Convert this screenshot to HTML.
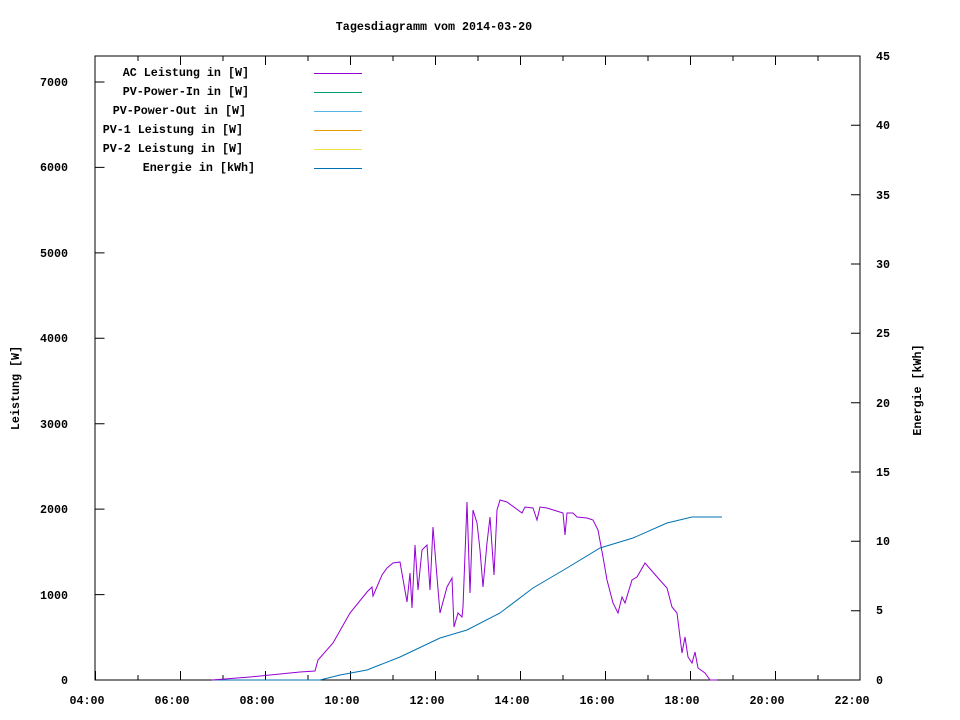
<!DOCTYPE html><html><head><style>body{margin:0;background:#fff}svg{display:block}text{font-family:"Liberation Mono",monospace;font-size:11.7px;font-weight:bold;fill:#000}</style></head><body>
<svg width="960" height="720" xmlns="http://www.w3.org/2000/svg">
<rect x="95" y="56" width="765" height="624" fill="none" stroke="#000" stroke-width="1"/>
<g stroke="#000" stroke-width="1">
<path d="M95.5 680h9M95.5 594.6h9M95.5 509.1h9M95.5 423.7h9M95.5 338.3h9M95.5 252.9h9M95.5 167.4h9M95.5 82h9"/>
<path d="M860 680h-9M860 610.7h-9M860 541.3h-9M860 472h-9M860 402.7h-9M860 333.3h-9M860 264h-9M860 194.7h-9M860 125.3h-9M860 56h-9"/>
<path d="M95.5 680v-9M138 680v-5M180.5 680v-9M223 680v-5M265.5 680v-9M308 680v-5M350.5 680v-9M393 680v-5M435.5 680v-9M478 680v-5M520.5 680v-9M563 680v-5M605.5 680v-9M648 680v-5M690.5 680v-9M733 680v-5M775.5 680v-9M818 680v-5M860 680v-9"/>
<path d="M138 56v5M180.5 56v9M223 56v5M265.5 56v9M308 56v5M350.5 56v9M393 56v5M435.5 56v9M478 56v5M520.5 56v9M563 56v5M605.5 56v9M648 56v5M690.5 56v9M733 56v5M775.5 56v9M818 56v5"/>
</g>
<g text-anchor="end">
<text x="68" y="684">0</text><text x="68" y="599">1000</text><text x="68" y="513">2000</text><text x="68" y="428">3000</text><text x="68" y="342">4000</text><text x="68" y="257">5000</text><text x="68" y="171">6000</text><text x="68" y="86">7000</text>
</g>
<g text-anchor="start">
<text x="876" y="684">0</text><text x="876" y="614">5</text><text x="876" y="545">10</text><text x="876" y="476">15</text><text x="876" y="407">20</text><text x="876" y="337">25</text><text x="876" y="268">30</text><text x="876" y="199">35</text><text x="876" y="129">40</text><text x="876" y="60">45</text>
</g>
<g text-anchor="middle">
<text x="87" y="704">04:00</text><text x="172" y="704">06:00</text><text x="257" y="704">08:00</text><text x="342" y="704">10:00</text><text x="427" y="704">12:00</text><text x="512" y="704">14:00</text><text x="597" y="704">16:00</text><text x="682" y="704">18:00</text><text x="767" y="704">20:00</text><text x="852" y="704">22:00</text>
<text x="434" y="30">Tagesdiagramm vom 2014-03-20</text>
<text transform="translate(19,388) rotate(-90)">Leistung [W]</text>
<text transform="translate(921,390) rotate(-90)">Energie [kWh]</text>
</g>
<g text-anchor="end">
<text x="249" y="76">AC Leistung in [W]</text><text x="249" y="95">PV-Power-In in [W]</text><text x="246" y="114">PV-Power-Out in [W]</text><text x="243" y="133">PV-1 Leistung in [W]</text><text x="243" y="152">PV-2 Leistung in [W]</text><text x="255" y="171">Energie in [kWh]</text>
</g>
<g stroke-width="1">
<path d="M314 73.5h48" stroke="#9400d3"/><path d="M314 92.5h48" stroke="#009e73"/><path d="M314 111.5h48" stroke="#56b4e9"/><path d="M314 130.5h48" stroke="#e69f00"/><path d="M314 149.5h48" stroke="#f0e442"/><path d="M314 168.5h48" stroke="#0072b2"/>
</g>
<polyline fill="none" stroke="#0072b2" stroke-width="1" points="212,680 300,680 320,680 340,675 367,670 400,657 440,638 467,630 500,613 533,588 567,568 600,548 633,538 667,523 692,517 722,517"/>
<polyline fill="none" stroke="#9400d3" stroke-width="1" points="212,680 250,677 290,673 300,672 315,671 318,660 333,643 350,613 367,592 372,587 373,596 382,575 387,568 393,563 400,562 407,602 410,573 412,608 415,545 418,590 422,550 427,545 430,590 433,527 437,577 440,613 447,587 452,578 454,627 458,613 462,617 463,607 467,502 470,593 473,510 477,523 480,550 483,587 487,543 490,517 494,575 497,510 500,500 507,502 522,513 525,507 533,508 537,520 540,507 547,508 563,513 565,535 567,513 573,513 577,517 587,518 593,520 598,530 603,557 607,580 613,603 618,613 622,597 625,603 632,580 637,577 645,563 658,578 667,588 672,607 677,613 680,637 682,653 685,637 688,657 692,663 695,652 698,668 705,673 710,680 717,680"/>
</svg></body></html>
